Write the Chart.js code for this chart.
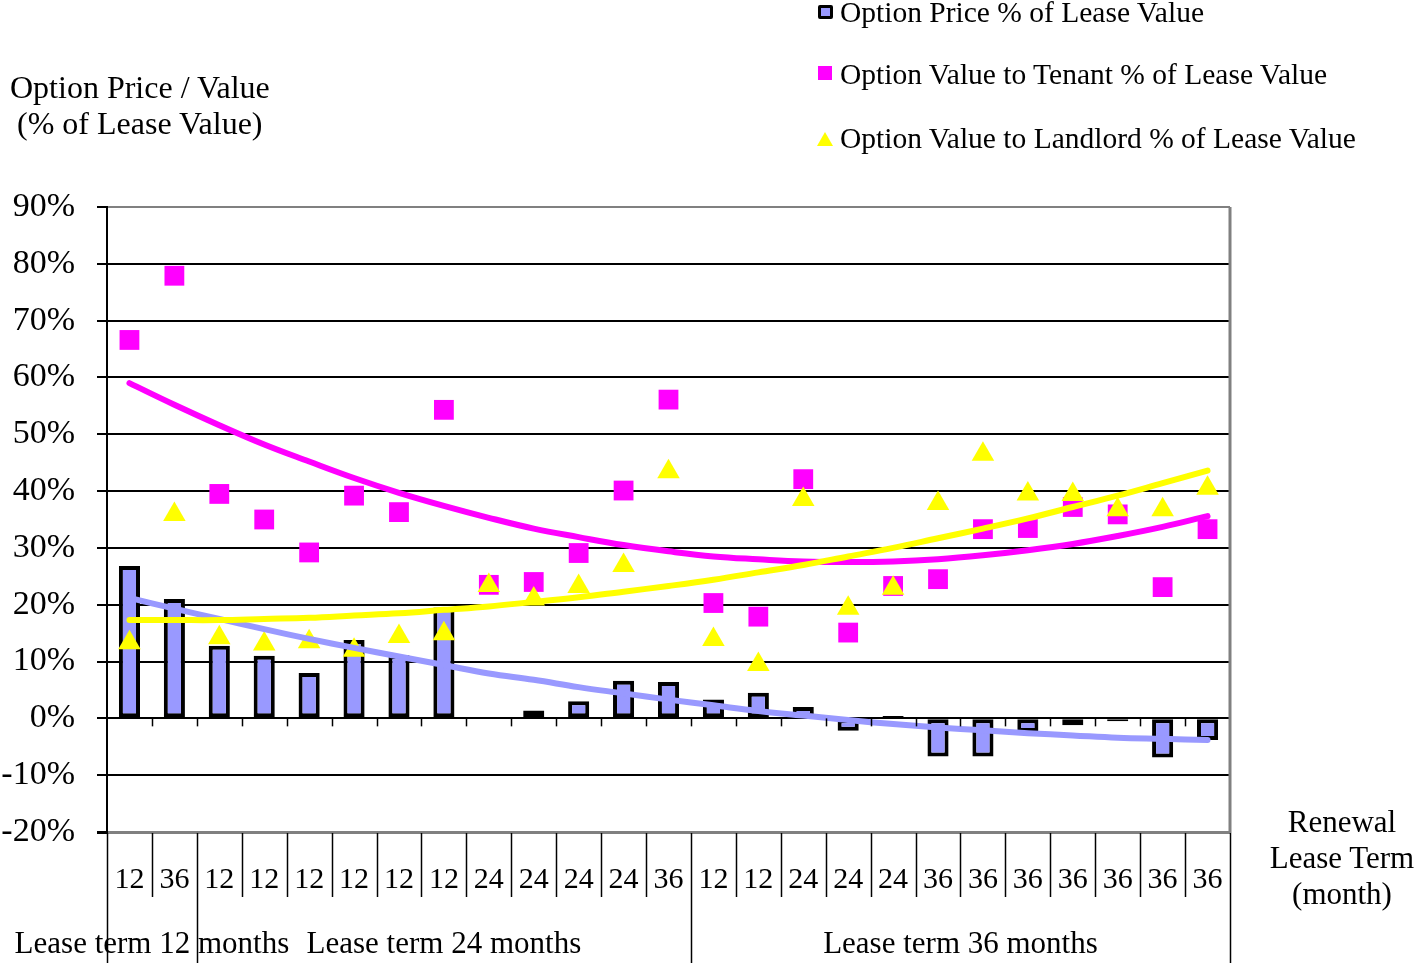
<!DOCTYPE html>
<html>
<head>
<meta charset="utf-8">
<title>Option Price / Value by Renewal Lease Term</title>
<script src="https://cdn.jsdelivr.net/npm/chart.js@4.4.1/dist/chart.umd.min.js"></script>
<style>
    body { margin: 0; background: #fff; }
    #wrap { position: relative; width: 1417px; height: 963px; overflow: hidden; font-family: "Liberation Serif", "Times New Roman", serif; color: #000; }
    #wrap canvas { position: absolute; left: 0; top: 0; }
    .txt { position: absolute; white-space: pre; }
    .legend-item { position: absolute; left: 816px; height: 30px; }
    .legend-item .label { position: absolute; left: 24px; top: 0; font-size: 29.5px; line-height: 30px; white-space: nowrap; }
    .mk { position: absolute; box-sizing: border-box; }
</style>
</head>
<body>
<div id="wrap">
    <canvas id="chart"></canvas>

    <!-- y axis title -->
    <div class="txt" style="left:10px; top:69px; font-size:32px; line-height:36px;">Option Price / Value</div>
    <div class="txt" style="left:17px; top:105px; font-size:32px; line-height:36px;">(% of Lease Value)</div>

    <!-- legend -->
    <div class="legend-item" style="top:-3px;">
        <span class="mk" style="left:2px; top:8px; width:15px; height:14px; background:#9999FF; border:3px solid #000; border-radius:2px;"></span>
        <span class="label">Option Price % of Lease Value</span>
    </div>
    <div class="legend-item" style="top:59px;">
        <span class="mk" style="left:2px; top:7px; width:14px; height:14px; background:#FF00FF;"></span>
        <span class="label">Option Value to Tenant % of Lease Value</span>
    </div>
    <div class="legend-item" style="top:123px;">
        <span class="mk" style="left:1px; top:9px; width:0; height:0; border-left:8px solid transparent; border-right:8px solid transparent; border-bottom:14px solid #FFFF00;"></span>
        <span class="label">Option Value to Landlord % of Lease Value</span>
    </div>

    <!-- x axis title -->
    <div class="txt" style="left:1262px; top:804px; width:160px; text-align:center; font-size:31px; line-height:36px;">Renewal
Lease Term
(month)</div>
</div>

<script>
// ---- data ----
const renewalTerms = ['12', '36', '12', '12', '12', '12', '12', '12', '24', '24', '24', '24', '36',
                      '12', '12', '24', '24', '24', '36', '36', '36', '36', '36', '36', '36'];

// lease term groups: label + index of first category
const groupLabels = ['Lease term 12 months', 'Lease term 24 months', 'Lease term 36 months'];
const groupStarts = [0, 2, 13];

const optionPrice = [26.8, 21.0, 12.8, 11.0, 8.0, 13.8, 11.1, 19.5, null, 1.4, 3.0, 6.6, 6.4,
                     3.3, 4.5, 2.0, -2.2, 0.4, -6.7, -6.7, -2.4, -1.2, -0.5, -6.9, -3.8];

const tenantValue = [66.6, 77.9, 39.5, 35.0, 29.2, 39.2, 36.3, 54.3, 23.5, 24.0, 29.1, 40.1, 56.1,
                     20.3, 17.9, 42.1, 15.1, 23.3, 24.5, 33.3, 33.5, 37.2, 35.9, 23.1, 33.3];

const landlordValue = [13.3, 35.9, 14.2, 13.1, 13.5, 12.0, 14.4, 14.9, 23.4, 21.0, 23.2, 26.9, 43.4,
                       13.9, 9.5, 38.5, 19.4, 22.9, 37.8, 46.5, 39.5, 39.4, 36.7, 36.7, 40.5];

// polynomial trend lines as drawn in the picture
const priceTrend = [21.2, 19.3, 17.5, 15.7, 14.0, 12.4, 10.9, 9.4, 7.9, 6.8, 5.5, 4.4, 3.3,
                    2.3, 1.3, 0.5, -0.3, -1.0, -1.6, -2.1, -2.6, -3.0, -3.4, -3.6, -3.8];

const tenantTrend = [59.0, 55.2, 51.6, 48.2, 45.2, 42.3, 39.7, 37.4, 35.3, 33.4, 31.9, 30.5, 29.4,
                     28.5, 28.0, 27.6, 27.5, 27.6, 28.0, 28.7, 29.6, 30.7, 32.1, 33.7, 35.6];

const landlordTrend = [17.3, 17.3, 17.3, 17.5, 17.7, 18.1, 18.5, 19.1, 19.7, 20.5, 21.3, 22.3, 23.3,
                       24.4, 25.7, 27.0, 28.5, 30.0, 31.7, 33.4, 35.2, 37.2, 39.2, 41.4, 43.6];

const FONT = '"Liberation Serif", "Times New Roman", serif';

/**
 * Draws the category dividers, zero-line ticks, right border and group labels
 */
const dividerPlugin = {
    id: 'dividers',
    afterDraw(chart) {
        const ctx = chart.ctx;
        const xs = chart.scales.x;
        const ys = chart.scales.y;
        const n = renewalTerms.length;
        const step = (xs.right - xs.left) / n;
        const bottom = chart.height;
        const zeroY = ys.getPixelForValue(0);

        ctx.save();

        // right plot border
        ctx.strokeStyle = '#808080';
        ctx.lineWidth = 3;
        ctx.beginPath();
        ctx.moveTo(xs.right, ys.top);
        ctx.lineTo(xs.right, ys.bottom + 1);
        ctx.stroke();

        ctx.strokeStyle = '#000';
        ctx.lineWidth = 1.5;
        for (let k = 0; k <= n; k++) {
            const x = Math.round(xs.left + k * step) + 0.5;
            const isGroup = k === n || groupStarts.includes(k);
            ctx.beginPath();
            ctx.moveTo(x, ys.bottom + 1);
            ctx.lineTo(x, isGroup ? bottom : ys.bottom + 65);
            ctx.stroke();

            // small ticks under the zero line
            if (k > 0 && k < n) {
                ctx.beginPath();
                ctx.moveTo(x, zeroY);
                ctx.lineTo(x, zeroY + 8);
                ctx.stroke();
            }
        }

        // group labels centred under their span
        ctx.fillStyle = '#000';
        ctx.font = '31px ' + FONT;
        ctx.textAlign = 'center';
        ctx.textBaseline = 'middle';
        groupLabels.forEach((label, g) => {
            const start = groupStarts[g];
            const end = g + 1 < groupStarts.length ? groupStarts[g + 1] : n;
            const cx = xs.left + (start + end) / 2 * step;
            ctx.fillText(label, cx, 945);
        });

        ctx.restore();
    }
};

const ctx = document.getElementById('chart').getContext('2d');

new Chart(ctx, {
    type: 'bar',
    data: {
        labels: renewalTerms,
        datasets: [
            {
                label: 'Option Price % of Lease Value',
                data: optionPrice,
                backgroundColor: '#9999FF',
                borderColor: '#000',
                borderWidth: 4,
                borderSkipped: false,
                barPercentage: 0.47,
                categoryPercentage: 1,
                order: 6
            },
            {
                type: 'line',
                label: 'Option Value to Tenant % of Lease Value',
                data: tenantValue,
                showLine: false,
                pointStyle: 'rect',
                pointRadius: 14,
                pointBorderWidth: 0,
                pointBackgroundColor: '#FF00FF',
                pointBorderColor: '#FF00FF',
                order: 5
            },
            {
                type: 'line',
                label: 'Option Value to Landlord % of Lease Value',
                data: landlordValue,
                showLine: false,
                pointStyle: 'triangle',
                pointRadius: 13,
                pointBorderWidth: 0,
                pointBackgroundColor: '#FFFF00',
                pointBorderColor: '#FFFF00',
                order: 4
            },
            {
                type: 'line',
                label: 'price trend',
                data: priceTrend,
                borderColor: '#9999FF',
                borderWidth: 6,
                borderCapStyle: 'round',
                pointRadius: 0,
                tension: 0.4,
                fill: false,
                order: 3
            },
            {
                type: 'line',
                label: 'tenant trend',
                data: tenantTrend,
                borderColor: '#FF00FF',
                borderWidth: 6,
                borderCapStyle: 'round',
                pointRadius: 0,
                tension: 0.4,
                fill: false,
                order: 2
            },
            {
                type: 'line',
                label: 'landlord trend',
                data: landlordTrend,
                borderColor: '#FFFF00',
                borderWidth: 6,
                borderCapStyle: 'round',
                pointRadius: 0,
                tension: 0.4,
                fill: false,
                order: 1
            }
        ]
    },
    options: {
        responsive: true,
        maintainAspectRatio: false,
        animation: false,
        layout: {
            padding: { left: 0, top: 207, right: 187, bottom: 0 }
        },
        plugins: {
            legend: { display: false },
            tooltip: { enabled: false }
        },
        scales: {
            x: {
                grid: { display: false, drawTicks: false },
                border: { display: false },
                ticks: {
                    color: '#000',
                    font: { family: FONT, size: 30 },
                    padding: 30,
                    maxRotation: 0,
                    autoSkip: false
                },
                afterFit(scale) { scale.height = 131; }
            },
            y: {
                min: -20,
                max: 90,
                grid: {
                    color: (c) => (c.tick && (c.tick.value === 90 || c.tick.value === -20)) ? '#808080' : '#000',
                    lineWidth: (c) => (c.tick && c.tick.value === -20) ? 3 : 2,
                    tickColor: '#000',
                    tickLength: 10
                },
                border: { color: '#000', width: 2 },
                ticks: {
                    stepSize: 10,
                    color: '#000',
                    font: { family: FONT, size: 34 },
                    padding: 22,
                    callback: (v) => v + '%'
                },
                afterFit(scale) { scale.width = 107; }
            }
        }
    },
    plugins: [dividerPlugin]
});
</script>
</body>
</html>
